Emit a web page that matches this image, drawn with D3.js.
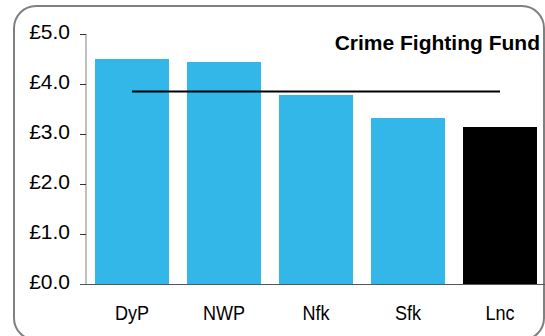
<!DOCTYPE html>
<html><head><meta charset="utf-8">
<script src="https://cdn.jsdelivr.net/npm/d3@7"></script>
<style>body{margin:0;background:#fff}svg{display:block}</style>
</head><body>
<script>
const categories = ["DyP","NWP","Nfk","Sfk","Lnc"];
const values = [4.50, 4.44, 3.78, 3.32, 3.14];
const barColors = ["#33b7e8","#33b7e8","#33b7e8","#33b7e8","#000000"];
const averageValue = 3.85;
const yTicks = [0,1,2,3,4,5];
const title = "Crime Fighting Fund";

const W=545,H=336;
const FONT="Liberation Sans, Arial, sans-serif";
const svg=d3.select("body").append("svg").attr("width",W).attr("height",H);
svg.append("rect").attr("x",14).attr("y",6).attr("width",530).attr("height",334)
  .attr("rx",22).attr("fill","#fff").attr("stroke","#808080").attr("stroke-width",2);

const x=d3.scaleBand().domain(categories).range([86,546]).paddingInner(0.196).paddingOuter(0.098);
const y=d3.scaleLinear().domain([0,5]).range([284,34]);

svg.selectAll("rect.bar").data(categories).join("rect").attr("class","bar")
  .attr("x",d=>x(d)).attr("width",x.bandwidth())
  .attr("y",(d,i)=>y(values[i])).attr("height",(d,i)=>y(0)-y(values[i]))
  .attr("fill",(d,i)=>barColors[i]);

const yAxis=svg.append("g").attr("transform","translate(86,0)")
  .call(d3.axisLeft(y).tickValues(yTicks).tickFormat(d=>"£"+d3.format(".1f")(d)).tickSize(6).tickPadding(10));
yAxis.select(".domain").attr("stroke","#808080").attr("d","M0,34V284");
yAxis.selectAll(".tick line").attr("stroke","#333");
yAxis.selectAll("text").attr("font-family",FONT).attr("font-size",21).attr("fill","#000").attr("dy","0.2em");

const xAxis=svg.append("g").attr("transform","translate(0,284)")
  .call(d3.axisBottom(x).tickSize(0));
xAxis.select(".domain").attr("stroke","#555").attr("d","M80,0.5H545");
xAxis.selectAll("text").attr("font-family",FONT).attr("font-size",21).attr("fill","#000")
  .attr("y",36).attr("dy",0).attr("transform","scale(0.86,1)");

svg.append("line")
  .attr("x1",x(categories[0])+x.bandwidth()/2).attr("x2",x(categories[categories.length-1])+x.bandwidth()/2)
  .attr("y1",y(averageValue)).attr("y2",y(averageValue))
  .attr("stroke","#000").attr("stroke-width",2);

svg.append("text").attr("x",540).attr("y",50).attr("text-anchor","end")
  .attr("font-family",FONT).attr("font-weight","bold").attr("font-size",21)
  .text(title);
</script>
</body></html>
